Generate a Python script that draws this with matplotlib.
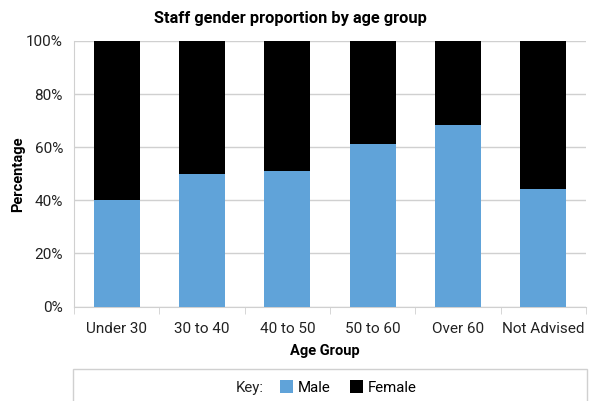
import matplotlib
matplotlib.use("Agg")
import matplotlib.pyplot as plt
from matplotlib.patches import Rectangle, Patch
from matplotlib.ticker import FuncFormatter, FixedLocator
import numpy as np

plt.rcParams['font.family'] = ['Roboto', 'DejaVu Sans']

age_groups = ['Under 30', '30 to 40', '40 to 50', '50 to 60', 'Over 60', 'Not Advised']
male_pct = [40.1, 49.9, 51.0, 61.2, 68.4, 44.3]
female_pct = [100 - m for m in male_pct]

blue = '#60a3d9'
grid_col = '#d0d0d0'
W, H = 593, 401

fig = plt.figure(figsize=(W / 100, H / 100), dpi=100)
ax = fig.add_axes([74 / W, 1 - 306.5 / H, 512 / W, 265.5 / H])

x = np.arange(len(age_groups))
ax.bar(x, male_pct, width=0.54, color=blue, zorder=3)
ax.bar(x, female_pct, width=0.54, bottom=male_pct, color='black', zorder=3)

ax.set_xlim(-0.5, len(age_groups) - 0.5)
ax.set_ylim(0, 100)
ax.set_yticks(range(0, 101, 20))
ax.yaxis.set_major_formatter(FuncFormatter(lambda v, p: f'{int(v)}%'))
ax.yaxis.grid(True, color=grid_col, linewidth=1, zorder=0)
ax.tick_params(axis='y', length=0, labelsize=11, colors='#222222', pad=8)

# category labels in the middle, tick marks on the boundaries
ax.set_xticks(x)
ax.set_xticklabels(age_groups)
ax.xaxis.set_minor_locator(FixedLocator(np.arange(-0.5, len(age_groups), 1)))
ax.tick_params(axis='x', which='major', length=0, labelsize=11, colors='#222222', pad=11)
ax.tick_params(axis='x', which='minor', length=5, color=grid_col, direction='out')

for side in ['top', 'right']:
    ax.spines[side].set_visible(False)
for side in ['left', 'bottom']:
    ax.spines[side].set_color(grid_col)

ax.set_xlabel('Age Group', fontsize=10.5, fontweight='bold', va='center')
ax.xaxis.set_label_coords(0.49, (306.5 - 351) / 265.5)
ax.set_ylabel('Percentage', fontsize=10.5, fontweight='bold', va='center')
ax.yaxis.set_label_coords((18 - 74) / 512, 0.5)
fig.text(290 / W, 1 - 18 / H, 'Staff gender proportion by age group',
         ha='center', va='center', fontsize=11.8, fontweight='bold')

# key box under the chart
fig.patches.append(Rectangle((73 / W, -0.05), 514 / W, (401 - 369) / H + 0.05,
                             transform=fig.transFigure, fill=False,
                             edgecolor=grid_col, linewidth=1))
fig.text(236 / W, 1 - 388 / H, 'Key:', ha='left', va='center', fontsize=10.8, color='#222222')
handles = [Patch(facecolor=blue, label='Male'), Patch(facecolor='black', label='Female')]
fig.legend(handles=handles, loc='center left', bbox_to_anchor=(272 / W, 1 - 387.5 / H),
           ncol=2, frameon=False, fontsize=10.8, handlelength=0.9, handleheight=0.9,
           handletextpad=0.3, columnspacing=1.3, borderpad=0)

fig.savefig('out.png', dpi=100)
